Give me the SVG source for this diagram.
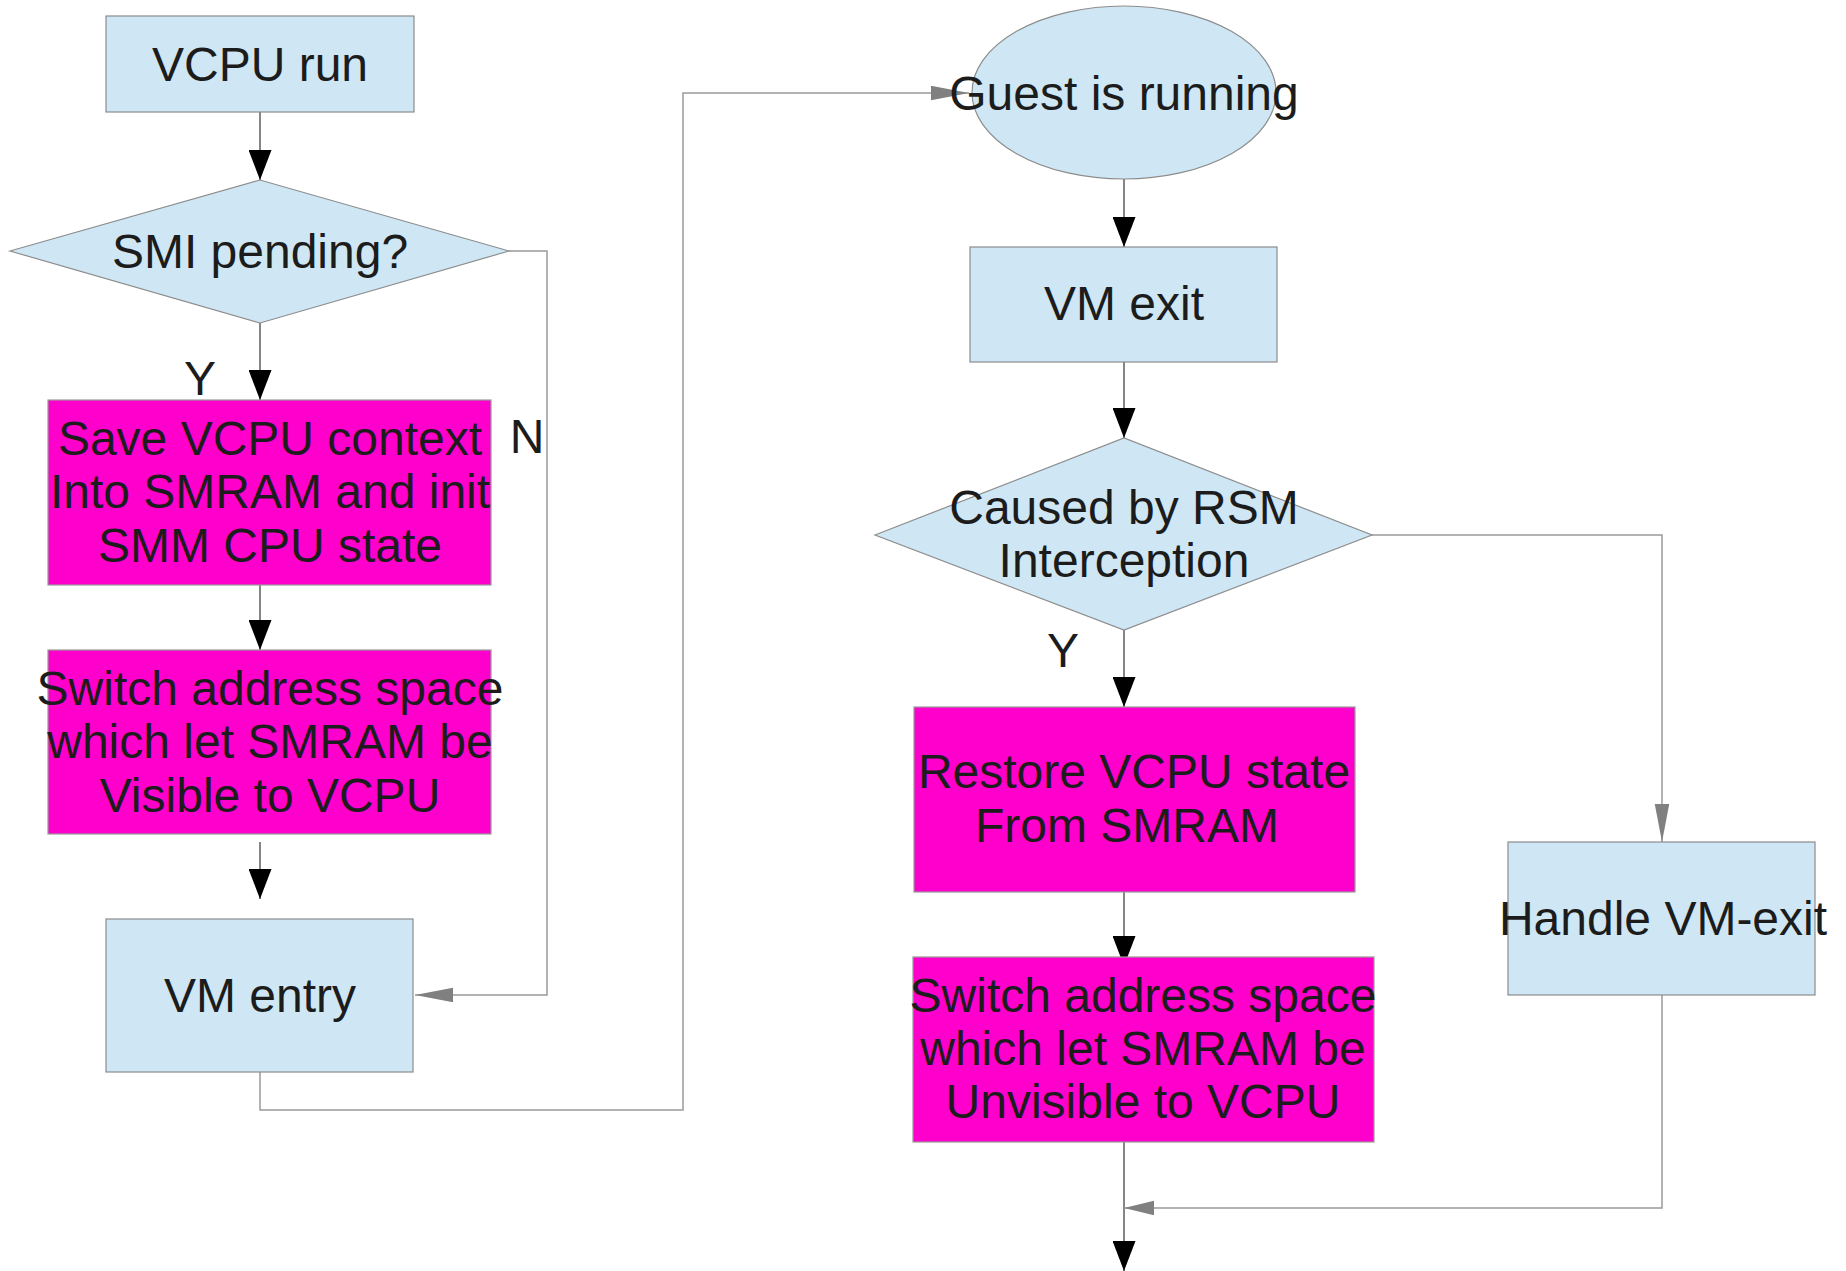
<svg xmlns="http://www.w3.org/2000/svg" width="1846" height="1271" viewBox="0 0 1846 1271">
<defs>
<style>
.blue{fill:#cfe7f5;stroke:#8c8c8c;stroke-width:1.2}
.mag{fill:#ff00cc;stroke:#999999;stroke-width:1.2}
text{font-family:"Liberation Sans",Arial,sans-serif;font-size:48px;fill:#1c1c1c;text-anchor:middle}
.flow{fill:none;stroke:#444444;stroke-width:1.3}
.loop{fill:none;stroke:#9a9a9a;stroke-width:1.5}
</style>
<marker id="blk" markerUnits="userSpaceOnUse" markerWidth="31" markerHeight="23" refX="30" refY="11.5" orient="auto">
<path d="M0,0 L30,11.5 L0,23 z" fill="#000"/>
</marker>
<marker id="gry" markerUnits="userSpaceOnUse" markerWidth="39" markerHeight="15" refX="38" refY="7.25" orient="auto">
<path d="M0,0 L38,7.25 L0,14.5 z" fill="#808080"/>
</marker>
<marker id="gry2" markerUnits="userSpaceOnUse" markerWidth="31" markerHeight="15" refX="30" refY="7.25" orient="auto">
<path d="M0,0 L30,7.25 L0,14.5 z" fill="#808080"/>
</marker>
</defs>
<rect width="1846" height="1271" fill="#ffffff"/>

<g id="connectors">
<line class="flow" x1="260" y1="112" x2="260" y2="180" marker-end="url(#blk)"/>
<line class="flow" x1="260" y1="323" x2="260" y2="400" marker-end="url(#blk)"/>
<line class="flow" x1="260" y1="585" x2="260" y2="650" marker-end="url(#blk)"/>
<line class="flow" x1="260" y1="842" x2="260" y2="899" marker-end="url(#blk)"/>
<path class="loop" d="M509,251 H547 V995 H415" marker-end="url(#gry)"/>
<path class="loop" d="M260,1072 V1110 H683 V93 H969" marker-end="url(#gry)"/>
<line class="flow" x1="1124" y1="179" x2="1124" y2="247" marker-end="url(#blk)"/>
<line class="flow" x1="1124" y1="362" x2="1124" y2="438" marker-end="url(#blk)"/>
<line class="flow" x1="1124" y1="630" x2="1124" y2="707" marker-end="url(#blk)"/>
<line class="flow" x1="1124" y1="892" x2="1124" y2="966" marker-end="url(#blk)"/>
<path class="loop" d="M1372,535 H1662 V842" marker-end="url(#gry)"/>
<line class="flow" x1="1124" y1="1142" x2="1124" y2="1271" marker-end="url(#blk)"/>
<path class="loop" d="M1662,995 V1208 H1124" marker-end="url(#gry2)"/>
</g>

<g id="vcpu-run">
<rect class="blue" x="106" y="16" width="308" height="96"/>
<text x="260" y="81">VCPU run</text>
</g>

<g id="smi-pending">
<polygon class="blue" points="10,251 260,180 509,251 260,323"/>
<text x="260" y="268">SMI pending?</text>
</g>

<g id="label-y1"><text x="200" y="395">Y</text></g>
<g id="label-n"><text x="527" y="453">N</text></g>

<g id="save-context">
<rect class="mag" x="48" y="400" width="443" height="185"/>
<text x="270" y="455">Save VCPU context</text>
<text x="270" y="508">Into SMRAM and init</text>
<text x="270" y="562">SMM CPU state</text>
</g>

<g id="switch-visible">
<rect class="mag" x="48" y="650" width="443" height="184"/>
<text x="270" y="705">Switch address space</text>
<text x="270" y="758">which let SMRAM be</text>
<text x="270" y="812">Visible to VCPU</text>
</g>

<g id="vm-entry">
<rect class="blue" x="106" y="919" width="307" height="153"/>
<text x="260" y="1012">VM entry</text>
</g>

<g id="guest-running">
<ellipse class="blue" cx="1124" cy="92.5" rx="152" ry="86.5"/>
<text x="1124" y="110">Guest is running</text>
</g>

<g id="vm-exit">
<rect class="blue" x="970" y="247" width="307" height="115"/>
<text x="1124" y="320">VM exit</text>
</g>

<g id="caused-by-rsm">
<polygon class="blue" points="875,535 1124,438 1372,535 1124,630"/>
<text x="1124" y="524">Caused by RSM</text>
<text x="1124" y="577">Interception</text>
</g>

<g id="label-y2"><text x="1063" y="667">Y</text></g>

<g id="restore-state">
<rect class="mag" x="914" y="707" width="441" height="185"/>
<text x="1134" y="788">Restore VCPU state</text>
<text x="1127" y="842">From SMRAM</text>
</g>

<g id="switch-unvisible">
<rect class="mag" x="913" y="957" width="461" height="185"/>
<text x="1143" y="1012">Switch address space</text>
<text x="1143" y="1065">which let SMRAM be</text>
<text x="1143" y="1118">Unvisible to VCPU</text>
</g>

<g id="handle-vm-exit">
<rect class="blue" x="1508" y="842" width="307" height="153"/>
<text x="1663" y="935">Handle VM-exit</text>
</g>
</svg>
